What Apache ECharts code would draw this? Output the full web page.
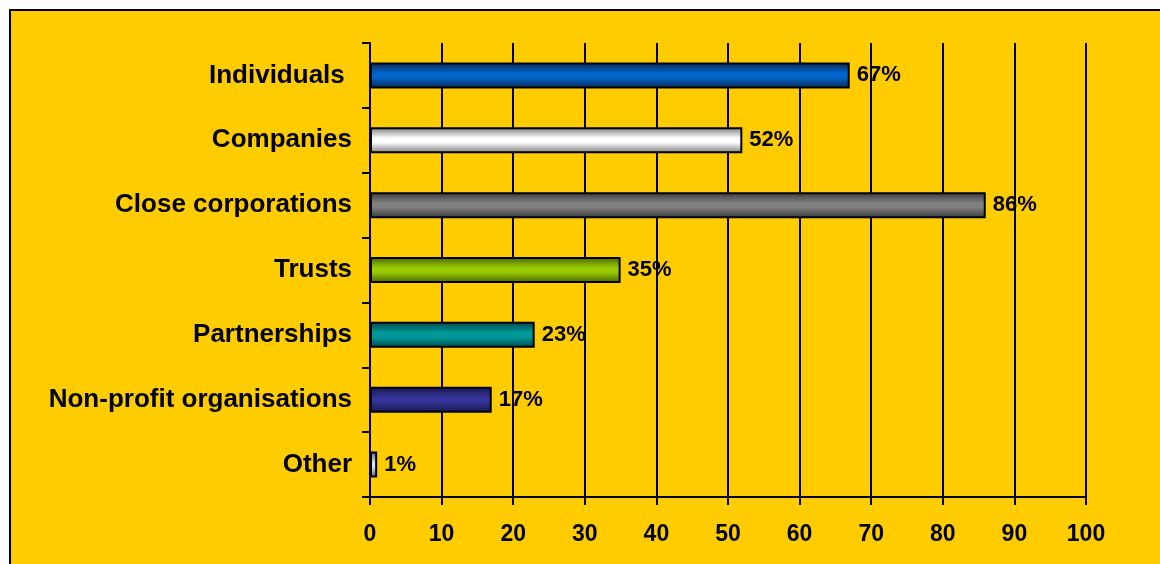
<!DOCTYPE html>
<html>
<head>
<meta charset="utf-8">
<script src="https://cdn.jsdelivr.net/npm/echarts@6/dist/echarts.min.js"></script>
<style>
  html, body { margin: 0; padding: 0; background: #ffffff; }
  #chart { width: 1160px; height: 564px; }
</style>
</head>
<body>
<div id="chart"></div>
<script>
// Entity types and share of respondents (%)
const categories = ['Individuals ', 'Companies', 'Close corporations', 'Trusts', 'Partnerships', 'Non-profit organisations', 'Other'];
const values = [67, 52, 86, 35, 23, 17, 1];
const xTicks = [0, 10, 20, 30, 40, 50, 60, 70, 80, 90, 100];

// Bar face colours (centre) and their shaded edges
const barColors = ['#0066CC', '#FFFFFF', '#808080', '#99CC00', '#009999', '#333399', '#D2E9F5'];
const edgeColors = ['#0B2650', '#7A7A7A', '#383838', '#4A6300', '#004747', '#17174A', '#4C5C68'];

const FONT = "'Liberation Sans', Arial, sans-serif";

function shade(i) {
  return new echarts.graphic.LinearGradient(0, 0, 0, 1, [
    { offset: 0, color: edgeColors[i] },
    { offset: 0.42, color: barColors[i] },
    { offset: 0.58, color: barColors[i] },
    { offset: 1, color: edgeColors[i] }
  ]);
}

const chart = echarts.init(document.getElementById('chart'), null, { renderer: 'canvas' });

chart.setOption({
  backgroundColor: '#ffffff',
  animation: false,
  graphic: [{
    type: 'rect',
    z: -10,
    silent: true,
    shape: { x: 10, y: 10, width: 1200, height: 600 },
    style: { fill: '#FFCC00', stroke: '#000000', lineWidth: 2 }
  }],
  grid: { left: 370, right: 74, top: 43, bottom: 67, containLabel: false },
  xAxis: {
    type: 'value',
    min: xTicks[0],
    max: xTicks[xTicks.length - 1],
    interval: xTicks[1] - xTicks[0],
    axisLine: { show: true, lineStyle: { color: '#000', width: 2 } },
    axisTick: { show: true, length: 8, lineStyle: { color: '#000', width: 2 } },
    splitLine: { show: true, lineStyle: { color: '#000', width: 2 } },
    axisLabel: {
      margin: 26,
      color: '#000',
      fontFamily: FONT,
      fontWeight: 'bold',
      fontSize: 23
    }
  },
  yAxis: {
    type: 'category',
    inverse: true,
    data: categories,
    axisLine: { show: true, lineStyle: { color: '#000', width: 2 } },
    axisTick: { show: true, length: 8, alignWithLabel: false, lineStyle: { color: '#000', width: 2 } },
    axisLabel: {
      margin: 18,
      color: '#000',
      fontFamily: FONT,
      fontWeight: 'bold',
      fontSize: 26
    }
  },
  series: [{
    type: 'bar',
    barWidth: 26,
    data: values.map((v, i) => ({
      value: v,
      itemStyle: { color: shade(i), borderColor: '#000', borderWidth: 2 }
    })),
    label: {
      show: true,
      position: 'right',
      distance: 7,
      formatter: p => p.value + '%',
      color: '#000',
      fontFamily: FONT,
      fontWeight: 'bold',
      fontSize: 22
    }
  }]
});
</script>
</body>
</html>
